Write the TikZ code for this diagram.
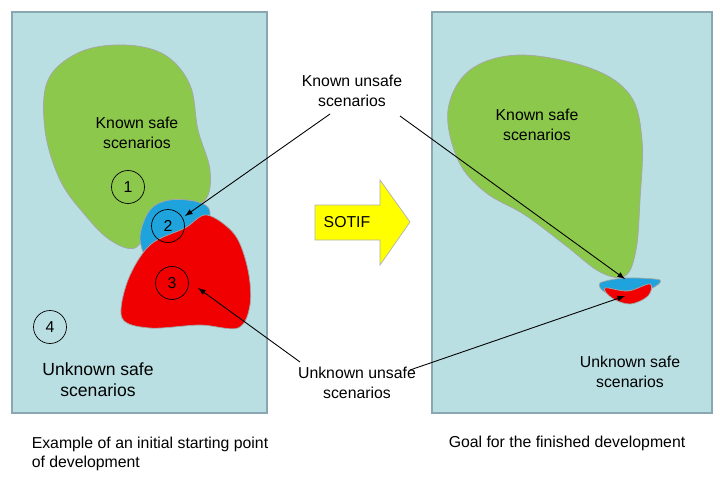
\documentclass[tikz,border=0pt]{standalone}
\usepackage{fontspec}
\setmainfont{Liberation Sans}
\begin{document}
\begin{tikzpicture}[x=0.02cm,y=-0.02cm,
  panel/.style={fill=panelc,draw=bordc,line width=1.2pt},
  blob/.style={draw=gray!70,line width=0.4pt},
  num/.style={circle,draw=black,minimum size=0.66cm,inner sep=0pt,font=\small},
  lbl/.style={align=center,font=\small},
  ptr/.style={-latex,line width=0.5pt}]
\definecolor{panelc}{HTML}{B9DFE3}
\definecolor{bordc}{HTML}{8AA6B0}
\definecolor{greenc}{HTML}{8CC84B}
\definecolor{bluec}{HTML}{1EA3DC}
\definecolor{redc}{HTML}{F00000}
\definecolor{yelc}{HTML}{FFFF00}
\useasboundingbox (0,0) rectangle (727,490);
\fill[white] (0,0) rectangle (727,490);
\draw[panel] (12,12) rectangle (267,413);
\draw[panel] (432,12) rectangle (712,413);
% left blobs
\draw[blob,fill=greenc] plot[smooth cycle,tension=0.6] coordinates {(48,80) (80,52) (125,45) (165,55) (190,85) (198,130) (210,170) (205,200) (175,210) (150,225) (135,248) (110,240) (85,215) (60,180) (45,130)};
\draw[blob,fill=bluec] plot[smooth cycle,tension=0.6] coordinates {(140,238) (150,210) (170,200) (198,202) (210,212) (200,235) (170,255) (150,262)};
\draw[blob,fill=redc] plot[smooth cycle,tension=0.55] coordinates {(150,245) (185,228) (207,215) (235,235) (248,270) (250,305) (238,328) (200,325) (150,328) (122,318) (128,280)};
\node[num] (n1) at (128,187) {1};
\node[num] (n2) at (168,226) {2};
\node[num] (n3) at (172,283) {3};
\node[num] (n4) at (50,327) {4};
\node[lbl] (ks1) at (137,133) {Known safe\\scenarios};
\node[lbl,font=\normalsize] (us1) at (98,380) {Unknown safe\\scenarios};
% SOTIF arrow
\draw[fill=yelc,draw=gray!60] (315,205) -- (380,205) -- (380,180) -- (410,222) -- (380,265) -- (380,240) -- (315,240) -- cycle;
\node[font=\small] (sotif) at (347,222) {SOTIF};
% right blobs
\draw[blob,fill=greenc] plot[smooth cycle,tension=0.6] coordinates {(448,110) (470,70) (520,55) (590,68) (630,95) (642,140) (640,200) (636,250) (625,276) (600,272) (565,245) (525,215) (485,192) (458,160)};
\draw[blob,fill=bluec] plot[smooth cycle,tension=0.5] coordinates {(600,283) (625,278) (660,280) (650,289) (625,291) (605,292)};
\draw[blob,fill=redc] plot[smooth cycle,tension=0.6] coordinates {(605,288) (628,291) (650,284) (648,296) (630,304) (612,298)};
\node[lbl] (ks2) at (537,125) {Known safe\\scenarios};
\node[lbl] (us2) at (630,372) {Unknown safe\\scenarios};
% labels with pointers
\node[lbl,fill=white,inner sep=1pt] (ku) at (352,91) {Known unsafe\\scenarios};
\node[lbl,fill=white,inner sep=1pt] (uu) at (357,383) {Unknown unsafe\\scenarios};
\coordinate (t1) at (185,216);
\coordinate (t2) at (625,279);
\coordinate (t3) at (198,288);
\coordinate (t4) at (625,296);
\draw[ptr] (330,114) -- (t1);
\draw[ptr] (400,116) -- (t2);
\draw[ptr] (300,362) -- (t3);
\draw[ptr] (410,370) -- (t4);
\node[font=\small,align=left] (c1) at (150,454) {Example of an initial starting point\\of development};
\node[font=\small] (c2) at (567,443) {Goal for the finished development};
\end{tikzpicture}
\end{document}
